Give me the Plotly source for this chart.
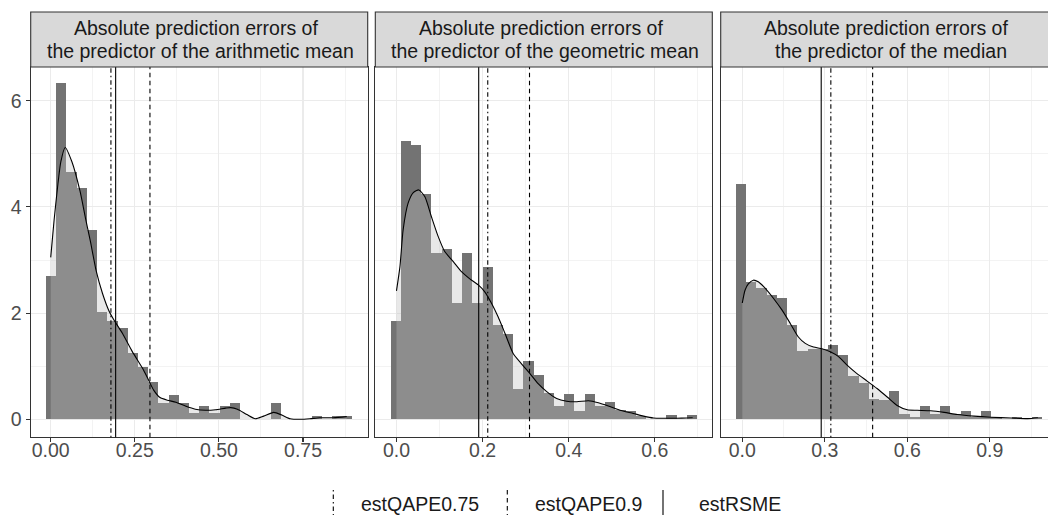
import plotly.graph_objects as go

W, H = 1048, 515
FONT = "Liberation Sans, Arial, Helvetica, sans-serif"

# ---------------- data ----------------
strip_line1 = ["Absolute prediction errors of",
               "Absolute prediction errors of",
               "Absolute prediction errors of"]
strip_line2 = ["the predictor of the arithmetic mean",
               "the predictor of the geometric mean",
               "the predictor of the median"]

# histogram (density scale), 30 bins per panel
hist_first_center = [0.0012, -0.0017, -0.0042]
hist_bin_width = [0.03036, 0.02372, 0.03713]
hist1 = [2.70, 6.33, 4.66, 4.35, 3.57, 2.03, 1.85, 1.72, 1.24, 0.99,
         0.70, 0.31, 0.45, 0.31, 0.12, 0.245, 0.12, 0.245, 0.31, 0.0,
         0.0, 0.0, 0.31, 0.0, 0.0, 0.0, 0.06, 0.0, 0.06, 0.06]
hist2 = [1.86, 5.25, 5.17, 4.24, 3.13, 3.21, 2.19, 3.13, 2.19, 2.87,
         1.77, 1.60, 0.58, 1.09, 0.84, 0.50, 0.25, 0.48, 0.15, 0.48,
         0.25, 0.33, 0.17, 0.15, 0.07, 0.0, 0.0, 0.075, 0.0, 0.075]
hist3 = [4.43, 2.59, 2.48, 2.35, 2.28, 1.77, 1.29, 1.33, 1.33, 1.40,
         1.22, 0.81, 0.69, 0.39, 0.37, 0.53, 0.10, 0.05, 0.25, 0.10,
         0.25, 0.10, 0.15, 0.05, 0.15, 0.05, 0.0, 0.05, 0.0, 0.05]

# kernel density curves
dens1_x = [0.0, 0.01, 0.02, 0.03, 0.043, 0.063, 0.087, 0.103, 0.118, 0.135,
           0.154, 0.174, 0.188, 0.213, 0.243, 0.273, 0.290, 0.306, 0.325, 0.347,
           0.372, 0.40, 0.43, 0.46, 0.49, 0.52, 0.535, 0.555, 0.583, 0.608,
           0.633, 0.663, 0.687, 0.712, 0.742, 0.77, 0.80, 0.84, 0.88]
dens1_y = [3.05, 3.75, 4.35, 4.85, 5.12, 4.85, 4.30, 3.80, 3.35, 2.80,
           2.37, 2.03, 1.87, 1.62, 1.27, 0.96, 0.75, 0.55, 0.41, 0.36,
           0.32, 0.25, 0.19, 0.17, 0.18, 0.21, 0.22, 0.19, 0.09, 0.01,
           0.06, 0.13, 0.08, 0.01, 0.0, 0.01, 0.03, 0.03, 0.05]

dens2_x = [0.0, 0.008, 0.0155, 0.027, 0.039, 0.052, 0.066, 0.081, 0.097, 0.112,
           0.132, 0.151, 0.171, 0.19, 0.205, 0.221, 0.236, 0.252, 0.271, 0.29,
           0.31, 0.329, 0.349, 0.372, 0.395, 0.419, 0.446, 0.469, 0.492, 0.519,
           0.55, 0.574, 0.597, 0.62, 0.651, 0.674, 0.688]
dens2_y = [2.42, 2.87, 3.57, 4.07, 4.27, 4.32, 4.19, 3.82, 3.44, 3.16,
           2.97, 2.78, 2.64, 2.53, 2.40, 2.18, 1.93, 1.62, 1.24, 1.05,
           0.86, 0.67, 0.52, 0.39, 0.34, 0.33, 0.35, 0.31, 0.25, 0.17,
           0.11, 0.06, 0.025, 0.02, 0.02, 0.025, 0.03]

dens3_x = [0.0, 0.01, 0.022, 0.04, 0.058, 0.083, 0.113, 0.144, 0.174, 0.204,
           0.229, 0.259, 0.29, 0.32, 0.35, 0.381, 0.417, 0.454, 0.49, 0.527,
           0.563, 0.60, 0.636, 0.685, 0.734, 0.782, 0.843, 0.904, 0.977, 1.038,
           1.075]
dens3_y = [2.19, 2.43, 2.55, 2.62, 2.59, 2.47, 2.28, 2.06, 1.81, 1.55,
           1.43, 1.36, 1.33, 1.27, 1.18, 1.02, 0.86, 0.72, 0.58, 0.42,
           0.26, 0.18, 0.17, 0.16, 0.13, 0.09, 0.06, 0.04, 0.025, 0.013,
           0.03]

est_qape075 = [0.179, 0.212, 0.322]
est_qape09 = [0.295, 0.309, 0.474]
est_rsme = [0.193, 0.191, 0.287]

x_tick_vals = [[0, 0.25, 0.5, 0.75], [0, 0.2, 0.4, 0.6], [0, 0.3, 0.6, 0.9]]
x_tick_text = [["0.00", "0.25", "0.50", "0.75"], ["0.0", "0.2", "0.4", "0.6"],
               ["0.0", "0.3", "0.6", "0.9"]]
y_tick_vals = [0, 2, 4, 6]
y_tick_text = ["0", "2", "4", "6"]
legend_labels = ["estQAPE0.75", "estQAPE0.9", "estRSME"]

# ---------------- layout / style ----------------
panel_left_px = [30.7, 375.3, 720.7]
panel_w_px = 337.0
plot_top_px, plot_bot_px, strip_top_px = 67.0, 437.3, 12.0
x_ranges = [[-0.0595, 0.9423], [-0.0492, 0.7336], [-0.0785, 1.1117]]
y_range = [-0.339, 6.635]
x_minor = [0.125, 0.1, 0.15]

BAR_COL = "#737373"
DENS_FILL = "rgba(190,190,190,0.35)"
BORDER = "#333333"
GRID = "#ebebeb"
line_dashes = ["1.5px,3px,4.5px,3px", "4.5px,3.5px", "solid"]


def px_x(p):
    return p / W


def px_y(p):
    return 1 - p / H


hists = [hist1, hist2, hist3]
dens = [(dens1_x, dens1_y), (dens2_x, dens2_y), (dens3_x, dens3_y)]

fig = go.Figure()
shapes = []
annotations = []

for i in range(3):
    sfx = "" if i == 0 else str(i + 1)
    xa, ya = "x" + sfx, "y" + sfx
    centers = [hist_first_center[i] + k * hist_bin_width[i] for k in range(len(hists[i]))]
    fig.add_trace(go.Bar(x=centers, y=hists[i], width=hist_bin_width[i],
                         marker=dict(color=BAR_COL, line=dict(width=0)),
                         xaxis=xa, yaxis=ya, showlegend=False, hoverinfo="skip"))
    fig.add_trace(go.Scatter(x=dens[i][0], y=dens[i][1], mode="lines",
                             line=dict(color="black", width=1.1, shape="spline", smoothing=0.6),
                             fill="tozeroy", fillcolor=DENS_FILL,
                             xaxis=xa, yaxis=ya, showlegend=False, hoverinfo="skip"))

    # vertical reference lines
    for vals, dash in zip([est_qape075, est_qape09, est_rsme], line_dashes):
        shapes.append(dict(type="line", xref=xa, yref=ya + " domain",
                           x0=vals[i], x1=vals[i], y0=0, y1=1,
                           line=dict(color="black", width=1.1, dash=dash)))

    left = panel_left_px[i]
    right = left + panel_w_px
    dom_right = min(right, W) / W
    fig.layout["xaxis" + sfx] = dict(
        domain=[px_x(left), dom_right], range=x_ranges[i], anchor=ya,
        tickmode="array", tickvals=x_tick_vals[i], ticktext=x_tick_text[i],
        ticks="outside", ticklen=4, tickwidth=1.1, tickcolor=BORDER,
        ticklabelstandoff=-9,
        tickfont=dict(size=19.5, color="#4d4d4d", family=FONT),
        showgrid=True, gridcolor=GRID, gridwidth=1.1,
        minor=dict(dtick=x_minor[i], tick0=0, showgrid=True, gridcolor=GRID,
                   gridwidth=0.6, ticks=""),
        showline=True, linecolor=BORDER, linewidth=1.1, mirror=True,
        zeroline=False, automargin=False, fixedrange=True)
    fig.layout["yaxis" + sfx] = dict(
        domain=[px_y(plot_bot_px), px_y(plot_top_px)], range=y_range, anchor=xa,
        tickmode="array", tickvals=y_tick_vals,
        ticktext=y_tick_text if i == 0 else ["" for _ in y_tick_text],
        ticks="outside" if i == 0 else "", ticklen=4, tickwidth=1.1, tickcolor=BORDER,
        tickfont=dict(size=19.5, color="#4d4d4d", family=FONT),
        showgrid=True, gridcolor=GRID, gridwidth=1.1,
        minor=dict(dtick=1, tick0=0, showgrid=True, gridcolor=GRID,
                   gridwidth=0.6, ticks=""),
        showline=True, linecolor=BORDER, linewidth=1.1,
        mirror=(i < 2), zeroline=False, automargin=False, fixedrange=True)

    # facet strip
    shapes.append(dict(type="rect", xref="paper", yref="paper",
                       x0=px_x(left), x1=px_x(right), y0=px_y(plot_top_px), y1=px_y(strip_top_px),
                       fillcolor="#d9d9d9", line=dict(color=BORDER, width=1.1), layer="above"))
    cx = px_x((left + right) / 2)
    annotations.append(dict(xref="paper", yref="paper", x=cx, y=px_y(28.5),
                            text=strip_line1[i], showarrow=False, xanchor="center",
                            yanchor="middle", xshift=-3,
                            font=dict(size=19.5, color="#1a1a1a", family=FONT)))
    annotations.append(dict(xref="paper", yref="paper", x=cx, y=px_y(50.5),
                            text=strip_line2[i], showarrow=False, xanchor="center",
                            yanchor="middle", xshift=1.5,
                            font=dict(size=19.5, color="#1a1a1a", family=FONT)))

# custom legend (vertical line keys like ggplot's geom_vline legend)
legend_key_px = [333.3, 507.3, 663.0]
legend_text_px = [359.3, 532.7, 697.0]
for k in range(3):
    shapes.append(dict(type="line", xref="paper", yref="paper",
                       x0=px_x(legend_key_px[k]), x1=px_x(legend_key_px[k]),
                       y0=px_y(490), y1=px_y(516),
                       line=dict(color="black", width=1.1, dash=line_dashes[k])))
    annotations.append(dict(xref="paper", yref="paper", x=px_x(legend_text_px[k]), y=px_y(504),
                            text=legend_labels[k], showarrow=False, xanchor="left",
                            yanchor="middle",
                            font=dict(size=19.5, color="#1a1a1a", family=FONT)))

fig.update_layout(
    width=W, height=H,
    margin=dict(l=0, r=0, t=0, b=0, pad=0),
    paper_bgcolor="white", plot_bgcolor="white",
    barmode="overlay", bargap=0,
    shapes=shapes, annotations=annotations,
    showlegend=False,
    font=dict(family=FONT),
)

fig.write_html("out.html",
               config={"displayModeBar": False, "staticPlot": True},
               post_script="document.body.style.margin='0px';document.body.style.overflow='hidden';")
